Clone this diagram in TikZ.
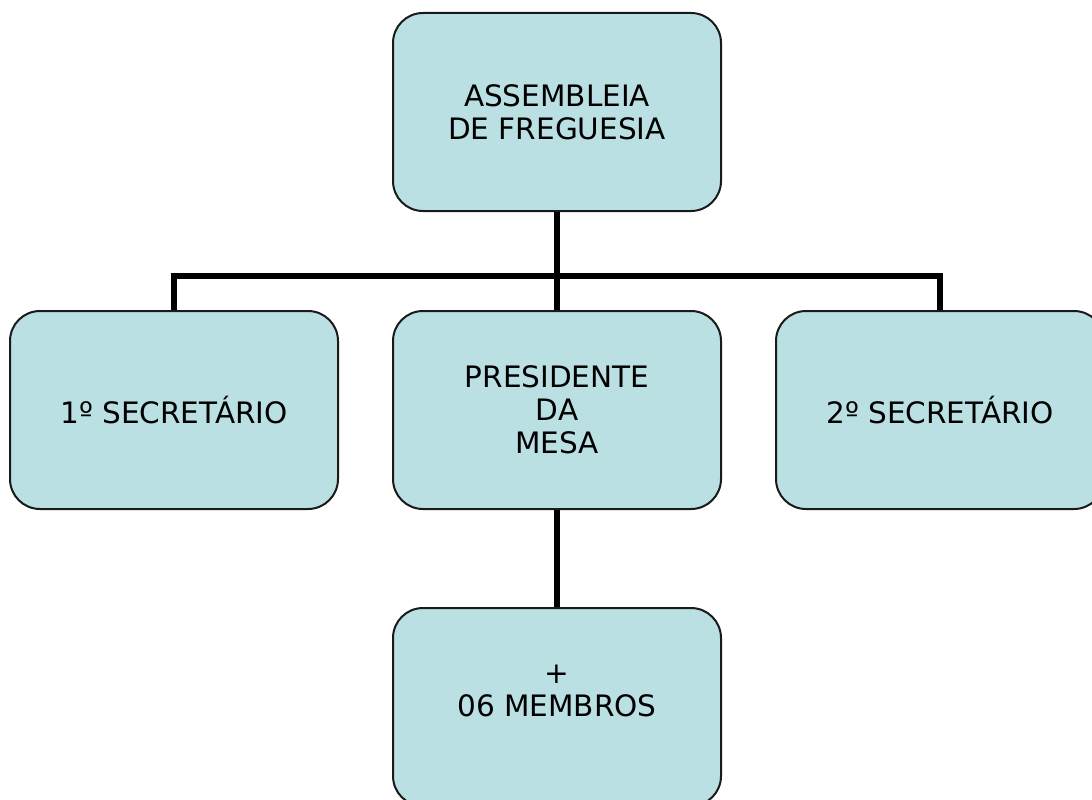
\documentclass[tikz,border=0pt]{standalone}
\usepackage{fontspec}
\setmainfont{DejaVu Sans}
\definecolor{boxfill}{HTML}{BAE0E3}
\definecolor{boxline}{HTML}{1A1A1A}
\tikzset{
  orgbox/.style={draw=boxline, line width=2pt, fill=boxfill, rounded corners=30pt,
    minimum width=328pt, minimum height=198pt, align=center, inner sep=0pt,
    font=\fontsize{29.5}{33}\selectfont},
  conn/.style={draw=black, line width=6pt}
}
\begin{document}
\begin{tikzpicture}[x=1pt, y=-1pt]
\clip (0,0) rectangle (1092,800);
\useasboundingbox (0,0) rectangle (1092,800);
\fill[white] (0,0) rectangle (1092,800);
\coordinate (bar) at (557,276);
\node[orgbox] (top) at (557,112) {ASSEMBLEIA\\DE FREGUESIA};
\node[orgbox] (sec1) at (174,410) {1º SECRETÁRIO};
\node[orgbox] (pres) at (557,410) {PRESIDENTE\\DA\\MESA};
\node[orgbox] (sec2) at (940,410) {2º SECRETÁRIO};
\node[orgbox] (memb) at (557,707) {+\\06 MEMBROS\\\mbox{}};
\draw[conn] (top.south) -- (pres.north);
\draw[conn] (sec1.north) -- (sec1.north |- bar) -- (sec2.north |- bar) -- (sec2.north);
\draw[conn] (pres.south) -- (memb.north);
\end{tikzpicture}
\end{document}
